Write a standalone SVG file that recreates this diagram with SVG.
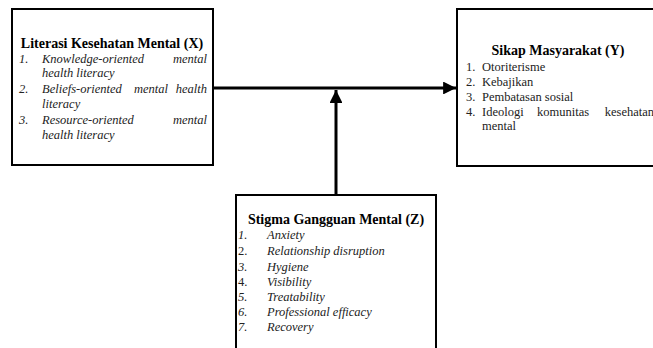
<svg xmlns="http://www.w3.org/2000/svg" width="653" height="348" viewBox="0 0 653 348">
<defs>
<style>
.box{fill:#fff;stroke:#000;stroke-width:2}
.t{font-family:"Liberation Serif","Times New Roman",serif;font-size:14px;font-weight:bold;fill:#000}
.i{font-family:"Liberation Serif","Times New Roman",serif;font-size:12.5px;font-style:italic;fill:#222}
.n{font-family:"Liberation Serif","Times New Roman",serif;font-size:12.5px;fill:#222}
.e{text-anchor:end}
.c{text-anchor:middle}
.ln{stroke:#000;stroke-width:3;fill:none}
</style>
<marker id="ah" viewBox="0 0 10 10" refX="10" refY="5" markerWidth="4.3" markerHeight="4.3" orient="auto" markerUnits="strokeWidth">
<path d="M0,0 L10,5 L0,10 Z" fill="#000"/>
</marker>
</defs>
<rect width="653" height="348" fill="#fff"/>
<g id="connectors">
<line class="ln" x1="213" y1="88" x2="456" y2="88" marker-end="url(#ah)"/>
<line class="ln" x1="336" y1="194" x2="336" y2="90" marker-end="url(#ah)"/>
</g>
<g id="nodeX">
<rect class="box" x="12" y="9" width="201" height="156"/>
<text class="t c" x="112" y="48">Literasi Kesehatan Mental (X)</text>
<text class="i" x="19" y="63">1.</text>
<text class="i" x="42" y="63">Knowledge-oriented</text>
<text class="i e" x="207" y="63">mental</text>
<text class="i" x="42" y="77">health literacy</text>
<text class="i" x="19" y="93">2.</text>
<text class="i" x="42" y="93">Beliefs-oriented</text>
<text class="i" x="134" y="93">mental</text>
<text class="i e" x="207" y="93">health</text>
<text class="i" x="42" y="108">literacy</text>
<text class="i" x="19" y="124">3.</text>
<text class="i" x="42" y="124">Resource-oriented</text>
<text class="i e" x="207" y="124">mental</text>
<text class="i" x="42" y="139">health literacy</text>
</g>
<g id="nodeY">
<rect class="box" x="457" y="9" width="210" height="157"/>
<text class="t c" x="558" y="55">Sikap Masyarakat (Y)</text>
<text class="n" x="466" y="71">1.</text>
<text class="n" x="482" y="71">Otoriterisme</text>
<text class="n" x="466" y="86">2.</text>
<text class="n" x="482" y="86">Kebajikan</text>
<text class="n" x="466" y="101">3.</text>
<text class="n" x="482" y="101">Pembatasan sosial</text>
<text class="n" x="466" y="116">4.</text>
<text class="n" x="482" y="116">Ideologi</text>
<text class="n" x="537" y="116">komunitas</text>
<text class="n e" x="654" y="116">kesehatan</text>
<text class="n" x="482" y="130">mental</text>
</g>
<g id="nodeZ">
<rect class="box" x="236" y="195" width="200" height="170"/>
<text class="t c" x="336" y="224">Stigma Gangguan Mental (Z)</text>
<text class="i" x="238" y="239">1.</text>
<text class="i" x="267" y="239">Anxiety</text>
<text class="n" x="238" y="255">2.</text>
<text class="i" x="267" y="255">Relationship disruption</text>
<text class="i" x="238" y="271">3.</text>
<text class="i" x="267" y="271">Hygiene</text>
<text class="n" x="238" y="286">4.</text>
<text class="i" x="267" y="286">Visibility</text>
<text class="i" x="238" y="301">5.</text>
<text class="i" x="267" y="301">Treatability</text>
<text class="i" x="238" y="316">6.</text>
<text class="i" x="267" y="316">Professional efficacy</text>
<text class="i" x="238" y="331">7.</text>
<text class="i" x="267" y="331">Recovery</text>
</g>
</svg>
